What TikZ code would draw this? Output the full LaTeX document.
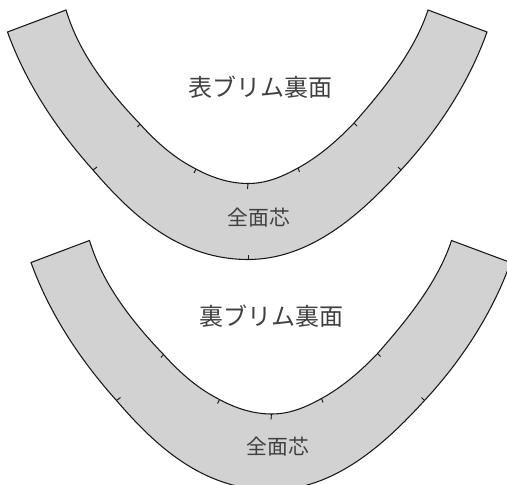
\documentclass[tikz,border=0pt]{standalone}
\usepackage{fontspec}
\newfontfamily\cjk{Noto Sans CJK JP}
\definecolor{brimgray}{HTML}{D2D2D2}
\tikzset{
  brimshape/.style={fill=brimgray,draw=black!90,line width=0.8pt,line join=miter},
  notch/.style={draw=black!90,line width=0.7pt},
  bigl/.style={font=\cjk\fontsize{18}{18}\selectfont,text=black!75,inner sep=0pt},
  smalll/.style={font=\cjk\fontsize{15.6}{16}\selectfont,text=black!75,inner sep=0pt},
  pics/brim/.style={code={
    \path[brimshape] (7.5,32)
      .. controls (23,75) and (50,122) .. (93,170)
      .. controls (130,213) and (178,259.5) .. (248,259.5)
      .. controls (310,259.5) and (360,215) .. (401,170)
      .. controls (440,128) and (470,80) .. (487,32)
      -- (428,10)
      .. controls (415,50) and (385,88) .. (354,123)
      .. controls (336,142) and (318,157) .. (298,168)
      .. controls (280,178) and (265,183.5) .. (248,183.5)
      .. controls (226,183.5) and (207,175) .. (196,169)
      .. controls (176,159) and (158,144) .. (140,124)
      .. controls (90,72) and (74,36) .. (66,10)
      -- cycle;
    \draw[notch] (140,124) -- (137.5,127);
    \draw[notch] (196,169) -- (194,173);
    \draw[notch] (248,183.5) -- (247.5,189);
    \draw[notch] (298,168) -- (299.5,172);
    \draw[notch] (354,123) -- (357,126);
    \draw[notch] (93,170) -- (97,167);
    \draw[notch] (401,170) -- (398,167);
    \draw[notch] (248,259.5) -- (248,254.5);
  }}
}
\begin{document}
\begin{tikzpicture}[x=0.75pt,y=-0.75pt]
\useasboundingbox (0,0) rectangle (507,485);
\clip (0,0) rectangle (507,485);
\pic at (0,0) {brim};
\pic at (23.5,230.5) {brim};
\node[bigl] (t1) at (260.5,87) {\cjk 表ブリム裏面};
\node[smalll] (c1) at (259,218) {\cjk 全面芯};
\node[bigl] (t2) at (271,316) {\cjk 裏ブリム裏面};
\node[smalll] (c2) at (278,447) {\cjk 全面芯};
\end{tikzpicture}
\end{document}
